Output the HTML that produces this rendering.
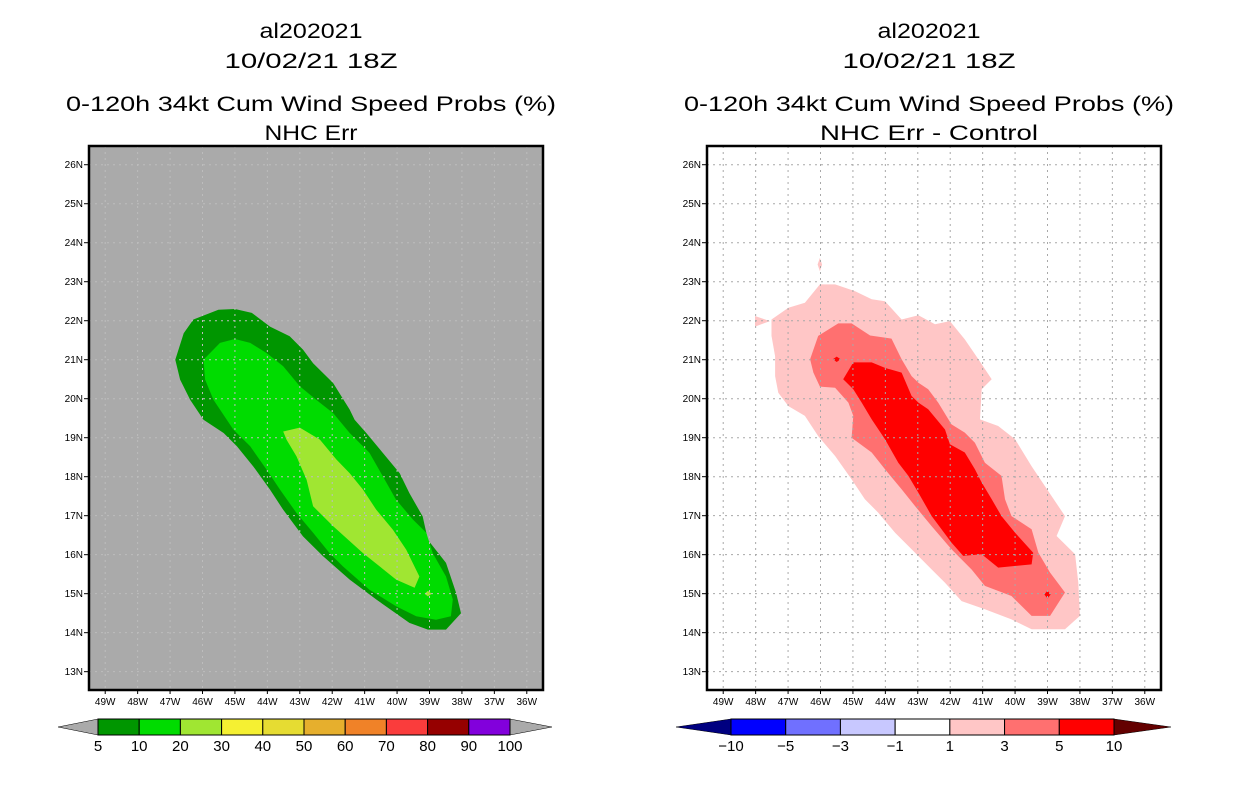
<!DOCTYPE html>
<html><head><meta charset="utf-8"><style>
html,body{margin:0;padding:0;background:#fff;}
svg{display:block;font-family:"Liberation Sans",sans-serif;}
</style></head><body>
<svg id="fig" width="1236" height="800" viewBox="0 0 1236 800" xmlns="http://www.w3.org/2000/svg"></svg>
<script>
// ---- data ----
const latTicks = [13,14,15,16,17,18,19,20,21,22,23,24,25,26];
const lonTicks = [49,48,47,46,45,44,43,42,41,40,39,38,37,36];
const probLevels = ["5","10","20","30","40","50","60","70","80","90","100"];
const probColors = ["#009600","#00dc00","#a0e632","#f5f032","#e6dc32","#e6af2d","#f08228","#fa3c3c","#960000","#8200dc"];
const diffLevels = ["\u221210","\u22125","\u22123","\u22121","1","3","5","10"];
const diffColors = ["#0000ff","#7070ff","#c8c8ff","#ffffff","#ffc6c6","#ff7070","#ff0000"];
// contours [lonW, latN]
const prob5 = [[46.84,21.0],[46.58,21.68],[46.28,22.03],[45.51,22.28],[45.0,22.3],[44.48,22.2],[43.92,21.85],[43.31,21.6],[42.9,21.26],[42.59,20.91],[41.97,20.4],[41.46,19.72],[41.31,19.46],[40.95,19.12],[40.44,18.61],[39.92,18.09],[39.62,17.58],[39.21,16.98],[39.05,16.38],[38.49,15.79],[38.18,15.02],[38.03,14.5],[38.49,14.08],[39.05,14.08],[39.62,14.25],[40.64,14.85],[41.46,15.36],[42.28,15.96],[42.9,16.47],[43.51,17.15],[43.92,17.67],[44.43,18.26],[44.94,18.78],[45.35,19.12],[45.97,19.46],[46.38,19.97],[46.69,20.49]];
const prob10 = [[45.97,21.0],[45.46,21.43],[45.0,21.53],[44.53,21.43],[44.02,21.17],[43.51,20.83],[43.0,20.32],[42.49,19.97],[41.97,19.63],[41.46,19.12],[40.85,18.61],[40.44,18.01],[40.03,17.41],[39.51,16.9],[39.1,16.56],[38.9,16.04],[38.49,15.44],[38.28,14.85],[38.34,14.42],[38.8,14.33],[39.41,14.42],[40.03,14.68],[40.85,15.1],[41.67,15.7],[42.08,16.04],[42.59,16.56],[43.1,17.07],[43.61,17.67],[44.02,18.18],[44.53,18.78],[45.05,19.21],[45.66,19.97],[45.92,20.49]];
const prob20 = [[43.51,19.16],[43.0,19.26],[42.38,18.95],[41.87,18.44],[41.46,18.09],[41.05,17.67],[40.64,17.15],[40.13,16.64],[39.72,16.13],[39.31,15.44],[39.46,15.15],[40.03,15.36],[41.05,16.04],[41.97,16.73],[42.59,17.24],[42.79,17.92],[43.1,18.52],[43.41,18.95]];
const prob20b = [[39.15,15.0],[39.05,15.07],[38.93,15.0],[39.05,14.93]];
const diff1 = [[47.51,22.03],[46.99,22.33],[46.48,22.46],[46.02,22.93],[45.55,22.93],[44.94,22.76],[44.42,22.55],[44.01,22.5],[43.5,22.03],[42.98,22.14],[42.47,21.91],[42.01,21.99],[41.55,21.52],[41.13,21.01],[40.72,20.5],[41.03,20.24],[41.08,19.47],[40.52,19.3],[40.0,18.96],[39.49,18.27],[38.87,17.5],[38.46,16.99],[38.72,16.48],[38.15,16.01],[38.05,15.28],[38.0,14.43],[38.46,14.09],[39.49,14.09],[40.11,14.34],[40.93,14.6],[41.65,14.81],[42.16,15.28],[42.57,15.62],[43.19,16.14],[43.7,16.56],[44.22,17.08],[44.63,17.42],[45.04,17.93],[45.55,18.53],[46.07,19.04],[46.48,19.56],[46.99,19.81],[47.3,20.15],[47.4,20.58],[47.4,21.09],[47.51,21.61]];
const diff1b = [[48.02,22.12],[47.56,21.99],[48.02,21.85]];
const diff1c = [[46.02,23.61],[45.95,23.44],[46.02,23.27],[46.09,23.44]];
const diff3 = [[46.32,21.01],[46.07,21.61],[45.45,21.93],[45.04,21.93],[44.47,21.62],[43.81,21.54],[43.5,21.01],[43.19,20.58],[42.98,20.41],[42.68,20.24],[42.37,19.9],[41.96,19.34],[41.55,19.13],[41.24,18.87],[40.93,18.36],[40.42,18.02],[40.31,17.42],[40.11,16.99],[39.49,16.65],[39.28,16.05],[38.92,15.54],[38.46,15.03],[38.92,14.43],[39.49,14.43],[40.11,14.94],[40.93,15.2],[41.34,15.62],[41.96,16.14],[42.57,16.73],[43.09,17.25],[43.5,17.68],[44.01,18.19],[44.42,18.62],[45.04,19.0],[44.99,19.56],[45.14,19.9],[45.55,20.28],[46.02,20.31],[46.22,20.67]];
const diff5 = [[45.3,20.5],[44.99,20.93],[44.42,20.93],[44.01,20.79],[43.5,20.67],[43.19,20.07],[42.98,19.9],[42.68,19.73],[42.16,19.21],[42.01,18.83],[41.55,18.62],[41.24,18.19],[41.03,17.85],[40.72,17.42],[40.42,16.99],[40.0,16.56],[39.44,16.05],[39.49,15.75],[40.52,15.67],[41.03,16.01],[41.6,15.97],[41.96,16.31],[42.57,16.99],[42.98,17.59],[43.29,18.02],[43.6,18.36],[44.01,18.96],[44.42,19.47],[44.73,19.9],[44.99,20.24]];
const diff5b = [[45.62,21.01],[45.5,21.08],[45.38,21.01],[45.5,20.94]];
const diff5c = [[39.1,14.98],[39.0,15.08],[38.9,14.98],[39.0,14.88]];

// ---- helpers ----
const NS="http://www.w3.org/2000/svg";
const svg=document.getElementById('fig');
function mk(tag,attrs,parent){const e=document.createElementNS(NS,tag);for(const k in attrs)e.setAttribute(k,attrs[k]);(parent||svg).appendChild(e);return e;}
function txt(s,attrs,parent){const e=mk('text',attrs,parent);e.textContent=s;return e;}

function panel(x0,bg,gridCol,titleLines,layers,pname){
  const W=454,H=544,y0=146;
  const lonMin=49.5,lonMax=35.5,latMin=12.53,latMax=26.48;
  const xs=l=>x0+(lonMin-l)/(lonMin-lonMax)*W;
  const ys=a=>y0+(latMax-a)/(latMax-latMin)*H;
  const g=mk('g',{});
  
  
  const cx=x0+W/2-5;
  const tY=[38,68,111,140];
  titleLines.forEach((t,i)=>{
    const e=txt(t.s,{x:cx,y:tY[i],'text-anchor':'middle','font-size':21,textLength:t.w,lengthAdjust:'spacingAndGlyphs',fill:'#000'},g);
    
    
  });
  const bgr=mk('rect',{x:x0,y:y0,width:W,height:H,fill:bg},g);
  
  
  layers.forEach(L=>{
    const p=mk('polygon',{points:L.d.map(q=>xs(q[0]).toFixed(1)+','+ys(q[1]).toFixed(1)).join(' '),fill:L.c},g);
    
    
  });
  latTicks.forEach(a=>{
    const y=ys(a);
    const ln=mk('line',{x1:x0,x2:x0+W,y1:y,y2:y,stroke:gridCol,'stroke-width':1,'stroke-dasharray':'2,4'},g);
    
    
    mk('line',{x1:x0-5,x2:x0,y1:y,y2:y,stroke:'#000','stroke-width':1},g);
    const t=txt(a+'N',{x:x0-6,y:y+3.5,'text-anchor':'end','font-size':10,fill:'#000'},g);
    
    
  });
  lonTicks.forEach(l=>{
    const x=xs(l);
    const ln=mk('line',{x1:x,x2:x,y1:y0,y2:y0+H,stroke:gridCol,'stroke-width':1,'stroke-dasharray':'2,4'},g);
    
    
    mk('line',{x1:x,x2:x,y1:y0+H,y2:y0+H+4,stroke:'#000','stroke-width':1},g);
    const t=txt(l+'W',{x:x,y:y0+H+15,'text-anchor':'middle','font-size':10,fill:'#000'},g);
    
    
  });
  const fr=mk('rect',{x:x0,y:y0,width:W,height:H,fill:'none',stroke:'#000','stroke-width':2.5},g);
  
  
}

function colorbar(xl,xb0,xb1,xr,cols,levs,lc,rc,name){
  const g=mk('g',{});
  
  
  const yt=719,yb=735,ym=727;
  mk('polygon',{points:`${xl},${ym} ${xb0},${yt} ${xb0},${yb}`,fill:lc,stroke:'#000','stroke-width':0.5},g);
  mk('polygon',{points:`${xr},${ym} ${xb1},${yt} ${xb1},${yb}`,fill:rc,stroke:'#000','stroke-width':0.5},g);
  const w=(xb1-xb0)/cols.length;
  cols.forEach((c,i)=>{
    const r=mk('rect',{x:xb0+i*w,y:yt,width:w,height:yb-yt,fill:c,stroke:'#000','stroke-width':1},g);
    
    
  });
  levs.forEach((s,i)=>{
    const t=txt(s,{x:xb0+i*w,y:751,'text-anchor':'middle','font-size':15,fill:'#000'},g);
    
    
  });
}

panel(89,'#aaaaaa','#bdbdbd',
  [{s:'al202021',w:103},{s:'10/02/21 18Z',w:173},{s:'0-120h 34kt Cum Wind Speed Probs (%)',w:490},{s:'NHC Err',w:93}],
  [{d:prob5,c:probColors[0],n:'prob-5-contour'},{d:prob10,c:probColors[1],n:'prob-10-contour'},{d:prob20,c:probColors[2],n:'prob-20-contour'},{d:prob20b,c:probColors[2],n:'prob-20-spot'}],
  'left-panel');
panel(707,'#ffffff','#a8a8a8',
  [{s:'al202021',w:103},{s:'10/02/21 18Z',w:173},{s:'0-120h 34kt Cum Wind Speed Probs (%)',w:490},{s:'NHC Err - Control',w:218}],
  [{d:diff1,c:diffColors[4],n:'diff-1-contour'},{d:diff1b,c:diffColors[4],n:'diff-1-tab'},{d:diff1c,c:diffColors[4],n:'diff-1-spot'},{d:diff3,c:diffColors[5],n:'diff-3-contour'},{d:diff5,c:diffColors[6],n:'diff-5-contour'},{d:diff5b,c:diffColors[6],n:'diff-5-spot-a'},{d:diff5c,c:diffColors[6],n:'diff-5-spot-b'}],
  'right-panel');
colorbar(58,98,510,552,probColors,probLevels,'#aaaaaa','#aaaaaa','left-colorbar');
colorbar(676,731,1114,1171,diffColors,diffLevels,'#000080','#640000','right-colorbar');
</script>
</body></html>
